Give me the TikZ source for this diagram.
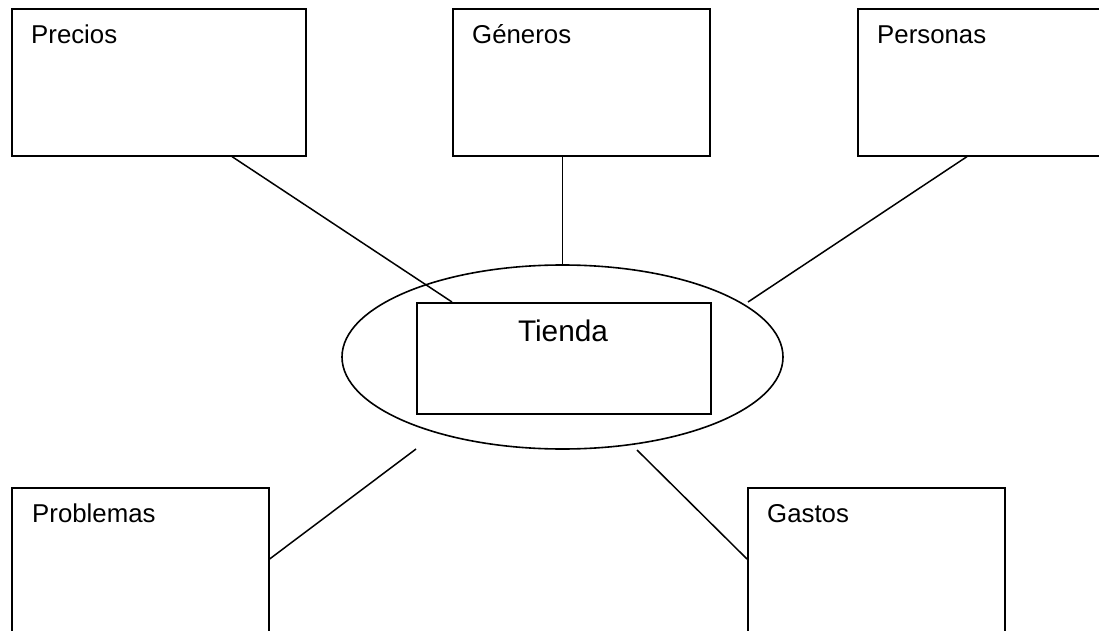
\documentclass[tikz,border=0pt]{standalone}
\usepackage{fontspec}
\setmainfont{Liberation Sans}
\usetikzlibrary{shapes.geometric,calc}
\tikzset{
  box/.style={draw, line width=1.6pt, inner sep=0pt, anchor=north west},
  lbl/.style={inner sep=0pt, anchor=base west, font=\fontsize{25.8}{30}\selectfont},
  conn/.style={line width=1.5pt},
}
\begin{document}
\begin{tikzpicture}[x=1pt,y=-1pt]
\useasboundingbox (0,0) rectangle (1099,631);
\clip (0,0) rectangle (1099,631);
% boxes
\node[box, minimum width=294pt, minimum height=147pt] (precios) at (11,8) {};
\node[box, minimum width=257pt, minimum height=147pt] (generos) at (452,8) {};
\node[box, minimum width=260pt, minimum height=147pt] (personas) at (857,8) {};
\node[box, minimum width=257pt, minimum height=200pt] (problemas) at (11,487) {};
\node[box, minimum width=257pt, minimum height=200pt] (gastos) at (747,487) {};
% ellipse and center box
\node[draw, ellipse, line width=1.6pt, inner sep=0pt, minimum width=441pt, minimum height=184pt] (ell) at (562.5,357) {};
\node[box, minimum width=294pt, minimum height=111pt] (tienda) at (416,302) {};
% labels
\node[lbl] (tprecios) at (31,44) {Precios};
\node[lbl] (tgeneros) at (472,44) {Géneros};
\node[lbl] (tpersonas) at (877,44) {Personas};
\node[lbl] (tproblemas) at (32,522) {Problemas};
\node[lbl] (tgastos) at (767,522) {Gastos};
\node[inner sep=0pt, anchor=base, font=\fontsize{29.8}{34}\selectfont] (ttienda) at (563,341) {Tienda};
% free connector ends
\coordinate (cpers) at (748,302);
\coordinate (cprob) at (416,449);
\coordinate (cgast) at (637,450);
% connectors
\draw[conn] ($(precios.south west)+(221,0)$) -- ($(tienda.north west)+(36,0)$);
\draw[conn] (ell.north) -- (ell.north |- generos.south);
\draw[conn] ($(personas.south west)+(110,0)$) -- (cpers);
\draw[conn] (cprob) -- ($(problemas.north east)+(0,72)$);
\draw[conn] (cgast) -- ($(gastos.north west)+(0,72)$);
\end{tikzpicture}
\end{document}
